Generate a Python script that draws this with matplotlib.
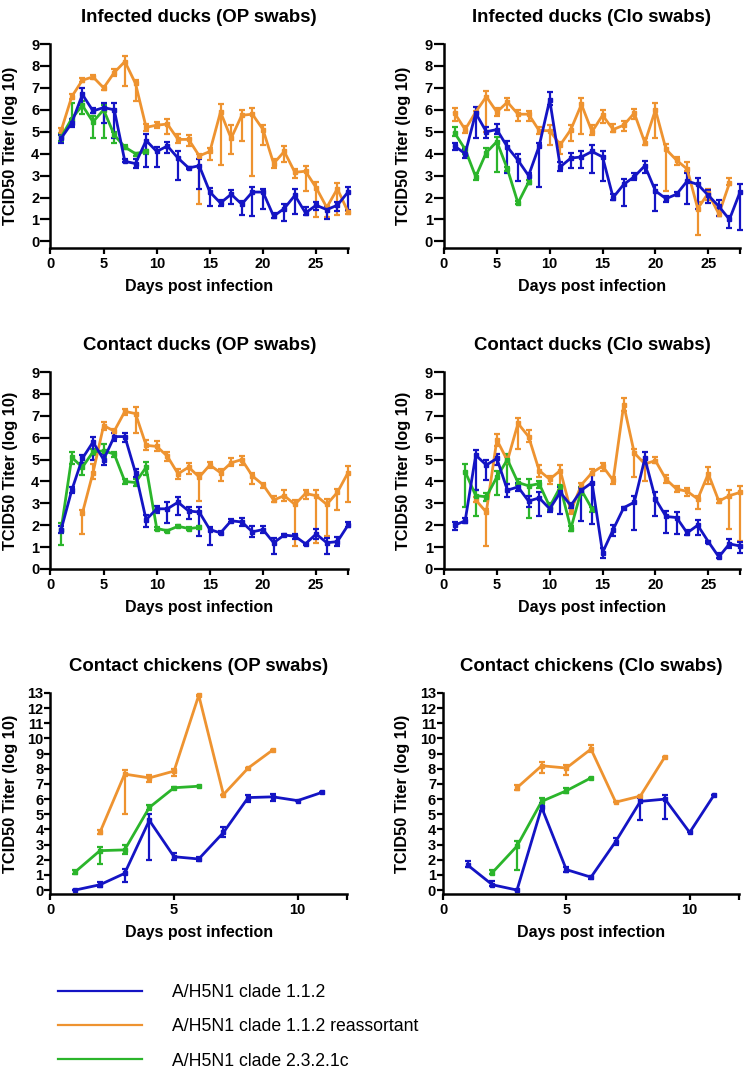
import matplotlib
matplotlib.use("Agg")
import matplotlib.pyplot as plt
from matplotlib.lines import Line2D

plt.rcParams['font.family'] = ['Liberation Sans', 'DejaVu Sans']

blue = '#1414c4'
orange = '#ee9330'
green = '#2bb52b'
strains = ['A/H5N1 clade 1.1.2', 'A/H5N1 clade 1.1.2 reassortant', 'A/H5N1 clade 2.3.2.1c']

days = [1, 2, 3, 4, 5, 6, 7, 8, 9, 10, 11, 12, 13, 14, 15, 16, 17, 18, 19, 20,
        21, 22, 23, 24, 25, 26, 27, 28]

# Infected ducks, OP swabs
iop_blue = [4.7, 5.4, 6.7, 5.95, 6.1, 6.0, 3.65, 3.55, 4.6, 4.1, 4.35, 3.8, 3.35, 3.45,
            2.25, 1.75, 2.15, 1.7, 2.25, 2.25, 1.15, 1.5, 2.1, 1.3, 1.65, 1.45, 1.65, 2.25]
iop_blue_lo = [4.5, 5.2, 6.2, 5.85, 5.4, 4.7, 3.6, 3.35, 3.4, 3.4, 4.05, 2.8, 3.3, 2.4,
               1.6, 1.6, 1.7, 1.2, 1.15, 1.5, 1.05, 0.95, 1.25, 1.2, 1.45, 1.0, 1.4, 1.45]
iop_blue_hi = [4.85, 5.6, 7.0, 6.1, 6.3, 6.3, 3.75, 3.75, 4.9, 4.3, 4.55, 4.1, 3.4, 3.75,
               2.45, 1.9, 2.35, 1.85, 2.5, 2.4, 1.3, 1.7, 2.4, 1.55, 1.8, 1.6, 1.8, 2.5]
iop_orange = [5.05, 6.6, 7.35, 7.5, 7.0, 7.7, 8.2, 7.2, 5.2, 5.3, 5.35, 4.65, 4.65, 3.9,
              4.1, 5.9, 4.7, 5.75, 5.8, 5.1, 3.55, 4.1, 3.15, 3.2, 2.45, 1.55, 2.4, 1.35]
iop_orange_lo = [4.95, 6.5, 7.25, 7.4, 6.9, 7.55, 7.1, 6.4, 5.05, 5.15, 4.9, 4.5, 4.35, 1.7,
                 3.7, 3.5, 4.0, 4.6, 3.0, 4.4, 3.35, 3.6, 2.9, 2.3, 1.1, 1.1, 1.2, 1.25]
iop_orange_hi = [5.15, 6.7, 7.45, 7.6, 7.1, 7.85, 8.45, 7.35, 5.35, 5.45, 5.6, 4.9, 4.85, 4.0,
                 4.25, 6.25, 5.3, 6.0, 6.1, 5.3, 3.75, 4.35, 3.3, 3.45, 2.7, 1.6, 2.65, 1.4]
iop_green = [4.75, 5.6, 6.2, 5.45, 6.0, 4.85, 4.3, 4.0, 4.1]
iop_green_lo = [4.6, 5.5, 5.8, 4.7, 4.7, 4.5, 4.2, 3.9, 4.0]
iop_green_hi = [4.9, 6.3, 6.4, 5.7, 6.2, 5.0, 4.4, 4.05, 4.15]

# Infected ducks, Clo swabs
icl_blue = [4.35, 4.0, 5.85, 5.0, 5.1, 4.3, 3.7, 3.0, 4.35, 6.45, 3.4, 3.8, 3.85, 4.1,
            3.85, 2.0, 2.6, 2.95, 3.45, 2.3, 1.95, 2.15, 2.75, 2.6, 2.1, 1.6, 1.0, 2.25]
icl_blue_lo = [4.15, 3.8, 4.7, 4.7, 4.9, 3.1, 2.75, 2.6, 2.5, 6.2, 3.2, 3.35, 3.35, 3.1,
               2.75, 1.9, 1.6, 2.8, 3.1, 1.4, 1.8, 2.1, 1.7, 1.5, 1.75, 1.15, 0.6, 0.5]
icl_blue_hi = [4.5, 4.2, 6.15, 5.2, 5.35, 4.6, 4.0, 3.1, 4.5, 6.8, 3.6, 4.05, 4.1, 4.4,
               4.1, 2.15, 2.85, 3.1, 3.65, 2.55, 2.05, 2.25, 3.1, 2.9, 2.35, 1.9, 1.15, 2.6]
icl_orange = [5.85, 5.1, 5.9, 6.6, 5.9, 6.35, 5.8, 5.8, 5.05, 5.05, 4.4, 5.1, 6.25, 5.0,
              5.75, 5.1, 5.3, 5.85, 4.5, 6.0, 4.2, 3.7, 3.3, 1.5, 2.2, 1.25, 2.65]
icl_orange_lo = [5.5, 4.95, 5.7, 5.0, 5.7, 6.0, 5.5, 5.5, 4.9, 4.4, 4.0, 4.6, 4.9, 4.85,
                 5.4, 5.0, 5.05, 5.6, 4.4, 4.7, 2.3, 3.5, 3.2, 0.3, 1.9, 1.15, 2.55]
icl_orange_hi = [6.1, 5.25, 5.95, 6.85, 6.1, 6.55, 6.0, 5.95, 5.2, 5.3, 4.55, 5.3, 6.55, 5.3,
                 6.0, 5.35, 5.5, 6.05, 4.7, 6.3, 4.45, 3.85, 3.6, 1.8, 2.4, 1.5, 2.9]
icl_green = [4.95, 4.2, 2.95, 4.05, 4.55, 3.3, 1.75, 2.7]
icl_green_lo = [4.8, 4.0, 2.8, 3.85, 3.15, 3.2, 1.7, 2.6]
icl_green_hi = [5.2, 4.3, 3.1, 4.25, 4.75, 3.4, 1.85, 2.8]

# Contact ducks, OP swabs
cop_blue = [1.8, 3.6, 5.05, 5.8, 5.0, 6.05, 6.05, 4.4, 2.25, 2.75, 2.75, 3.05, 2.65, 2.6,
            1.8, 1.65, 2.2, 2.15, 1.7, 1.8, 1.2, 1.55, 1.5, 1.15, 1.6, 1.2, 1.25, 2.0]
cop_blue_lo = [1.65, 3.45, 4.85, 5.0, 4.75, 5.85, 5.8, 4.2, 1.9, 2.55, 2.1, 2.45, 2.3, 1.5,
               1.1, 1.6, 2.15, 1.95, 1.45, 1.65, 0.7, 1.5, 1.35, 1.1, 1.35, 0.7, 1.05, 1.9]
cop_blue_hi = [1.95, 3.75, 5.2, 6.05, 5.25, 6.2, 6.2, 4.55, 2.45, 2.9, 3.05, 3.3, 2.85, 2.85,
               1.9, 1.75, 2.3, 2.35, 1.95, 1.95, 1.4, 1.6, 1.6, 1.2, 1.85, 1.4, 1.45, 2.15]
cop_orange = [2.55, 4.4, 6.55, 6.3, 7.2, 7.1, 5.65, 5.6, 5.15, 4.35, 4.65, 4.2, 4.75, 4.4,
              4.85, 5.0, 4.25, 3.85, 3.15, 3.35, 2.95, 3.45, 3.35, 2.95, 3.5, 4.4]
cop_orange_lo = [1.6, 4.1, 6.35, 6.2, 7.05, 6.2, 5.45, 5.4, 4.95, 4.1, 4.35, 3.1, 4.6, 4.0,
                 4.7, 4.75, 3.9, 3.7, 3.05, 3.1, 1.05, 3.2, 1.2, 1.5, 2.7, 3.05]
cop_orange_hi = [2.7, 4.8, 6.7, 6.4, 7.3, 7.4, 5.9, 5.85, 5.35, 4.55, 4.85, 4.4, 4.9, 4.55,
                 5.05, 5.15, 4.4, 3.95, 3.35, 3.6, 3.15, 3.6, 3.6, 3.2, 3.65, 4.7]
cop_green = [1.8, 5.1, 4.65, 5.35, 5.4, 5.25, 4.0, 3.95, 4.65, 1.85, 1.75, 1.95, 1.85, 1.9]
cop_green_lo = [1.1, 4.8, 4.3, 5.2, 5.1, 5.1, 3.9, 3.8, 4.3, 1.8, 1.7, 1.9, 1.8, 1.85]
cop_green_hi = [2.1, 5.35, 4.85, 5.5, 5.7, 5.35, 4.1, 4.1, 4.9, 1.9, 1.8, 2.0, 1.9, 1.95]

# Contact ducks, Clo swabs
ccl_blue = [2.0, 2.2, 5.2, 4.75, 5.05, 3.6, 3.75, 3.1, 3.25, 2.75, 3.5, 2.9, 3.6, 3.95,
            0.75, 1.8, 2.8, 3.05, 5.05, 3.2, 2.4, 2.35, 1.65, 2.0, 1.25, 0.55, 1.15, 1.05]
ccl_blue_lo = [1.8, 2.1, 3.6, 4.05, 4.75, 3.3, 3.55, 2.85, 2.4, 2.6, 2.5, 2.8, 2.2, 2.05,
               0.5, 1.5, 2.75, 1.8, 4.75, 2.4, 1.65, 1.6, 1.55, 1.55, 1.2, 0.5, 0.95, 0.75]
ccl_blue_hi = [2.15, 2.35, 5.45, 5.0, 5.25, 3.9, 3.95, 3.35, 3.5, 2.95, 3.75, 3.0, 3.7, 4.3,
               0.95, 2.0, 2.85, 3.35, 5.35, 3.5, 2.65, 2.6, 1.8, 2.25, 1.3, 0.75, 1.35, 1.25]
ccl_orange = [3.15, 2.6, 5.9, 4.95, 6.65, 6.05, 4.5, 4.1, 4.5, 2.65, 3.85, 4.4, 4.7, 4.05,
              7.5, 5.3, 4.8, 4.95, 4.1, 3.65, 3.55, 3.2, 4.35, 3.1, 3.35, 3.5]
ccl_orange_lo = [3.05, 1.05, 5.6, 4.8, 5.5, 5.8, 4.2, 3.9, 3.6, 2.5, 3.65, 4.3, 4.5, 3.9,
                 7.2, 4.2, 4.0, 4.85, 3.95, 3.5, 3.35, 2.75, 3.9, 3.0, 1.85, 1.3]
ccl_orange_hi = [3.3, 2.75, 6.15, 5.1, 6.9, 6.35, 4.75, 4.25, 4.75, 2.9, 3.95, 4.55, 4.85, 4.2,
                 7.8, 5.5, 5.0, 5.1, 4.3, 3.8, 3.7, 3.35, 4.65, 3.2, 3.6, 3.8]
ccl_green = [4.45, 3.35, 3.3, 4.2, 5.0, 3.95, 3.8, 3.9, 2.85, 3.75, 1.85, 3.6, 2.75]
ccl_green_lo = [2.85, 2.4, 3.1, 3.4, 3.9, 3.85, 2.35, 3.7, 2.7, 3.4, 1.75, 3.4, 2.6]
ccl_green_hi = [4.8, 3.6, 3.45, 4.5, 5.25, 4.1, 4.1, 4.0, 3.0, 3.85, 1.95, 3.75, 2.85]

# Contact chickens, OP swabs
chop_blue = [0.0, 0.35, 1.1, 4.6, 2.2, 2.05, 3.8, 6.1, 6.15, 5.9, 6.45]
chop_blue_lo = [0.0, 0.2, 0.5, 2.0, 2.0, 1.9, 3.5, 5.8, 5.85, 5.9, 6.45]
chop_blue_hi = [0.0, 0.55, 1.4, 5.0, 2.45, 2.2, 4.15, 6.3, 6.35, 5.9, 6.45]
chop_orange = [3.8, 7.65, 7.4, 7.85, 12.85, 6.3, 8.05, 9.25]
chop_orange_lo = [3.7, 5.0, 7.1, 7.55, 12.8, 6.3, 8.05, 9.25]
chop_orange_hi = [3.95, 7.95, 7.6, 8.0, 12.9, 6.3, 8.05, 9.25]
chop_green = [1.2, 2.6, 2.65, 5.45, 6.75, 6.85]
chop_green_lo = [1.05, 1.7, 2.4, 5.3, 6.7, 6.85]
chop_green_hi = [1.35, 2.85, 2.95, 5.6, 6.8, 6.85]

# Contact chickens, Clo swabs
chcl_blue = [1.65, 0.35, 0.0, 5.45, 1.35, 0.85, 3.2, 5.85, 6.0, 3.8, 6.3]
chcl_blue_lo = [1.55, 0.25, 0.0, 5.2, 1.2, 0.75, 2.95, 4.6, 4.7, 3.8, 6.3]
chcl_blue_hi = [1.9, 0.6, 0.0, 5.75, 1.5, 0.95, 3.45, 6.1, 6.3, 3.8, 6.3]
chcl_orange = [6.75, 8.2, 8.05, 9.3, 5.8, 6.2, 8.8]
chcl_orange_lo = [6.6, 7.7, 7.6, 9.1, 5.8, 6.2, 8.8]
chcl_orange_hi = [6.95, 8.45, 8.25, 9.6, 5.8, 6.2, 8.8]
chcl_green = [1.15, 2.9, 5.85, 6.55, 7.4]
chcl_green_lo = [1.05, 1.3, 5.6, 6.4, 7.4]
chcl_green_hi = [1.35, 3.25, 6.1, 6.7, 7.4]

W, H = 750, 1069
fig = plt.figure(figsize=(W / 100, H / 100), dpi=100)


def series(ax, start, mean, lo, hi, color):
    x = days[start - 1:start - 1 + len(mean)]
    err = [[m - l for m, l in zip(mean, lo)], [h - m for m, h in zip(mean, hi)]]
    ax.errorbar(x, mean, yerr=err, color=color, lw=2.0, elinewidth=1.6,
                capsize=2, capthick=1.6, marker='s', markersize=2.5,
                clip_on=False)


def panel(rect, title, ymin, ymax, xmax, xticks, yticks, ytick_len, data):
    l, t, r, b = rect
    ax = fig.add_axes([l / W, 1 - b / H, (r - l) / W, (b - t) / H])
    for start, mean, lo, hi, color in data:
        series(ax, start, mean, lo, hi, color)
    ax.set_xlim(0, xmax)
    ax.set_ylim(ymin, ymax)
    ax.set_xticks(xticks)
    ax.set_xticks([xmax], minor=True)
    ax.set_yticks(yticks)
    for s in ['top', 'right']:
        ax.spines[s].set_visible(False)
    for s in ['left', 'bottom']:
        ax.spines[s].set_linewidth(1.8)
    ax.tick_params(axis='x', which='both', direction='out', length=4.5, width=1.6,
                   labelsize=10.5, pad=2)
    ax.tick_params(axis='y', direction='out', length=ytick_len, width=1.6,
                   labelsize=10.5, pad=1)
    for lab in ax.get_xticklabels() + ax.get_yticklabels():
        lab.set_fontweight('bold')
    ax.set_title(title, fontsize=13.4, fontweight='bold', pad=16)
    ax.set_xlabel('Days post infection', fontsize=11.5, fontweight='bold', labelpad=6)
    ax.set_ylabel('TCID50 Titer (log 10)', fontsize=11.8, fontweight='bold')
    ax.yaxis.set_label_coords(-0.11, 0.5)
    return ax


ducks_x = [0, 5, 10, 15, 20, 25]
ducks_y = [0, 1, 2, 3, 4, 5, 6, 7, 8, 9]
chick_x = [0, 5, 10]
chick_y = [0, 1, 2, 3, 4, 5, 6, 7, 8, 9, 10, 11, 12, 13]

panel((50.5, 44, 348, 248), 'Infected ducks (OP swabs)', -0.3, 9, 28, ducks_x, ducks_y, 7,
      [(1, iop_orange, iop_orange_lo, iop_orange_hi, orange),
       (1, iop_green, iop_green_lo, iop_green_hi, green),
       (1, iop_blue, iop_blue_lo, iop_blue_hi, blue)])
panel((444, 44, 740, 248), 'Infected ducks (Clo swabs)', -0.3, 9, 28, ducks_x, ducks_y, 7,
      [(1, icl_orange, icl_orange_lo, icl_orange_hi, orange),
       (1, icl_green, icl_green_lo, icl_green_hi, green),
       (1, icl_blue, icl_blue_lo, icl_blue_hi, blue)])
panel((50.5, 372, 348, 569), 'Contact ducks (OP swabs)', 0, 9, 28, ducks_x, ducks_y, 7,
      [(3, cop_orange, cop_orange_lo, cop_orange_hi, orange),
       (1, cop_green, cop_green_lo, cop_green_hi, green),
       (1, cop_blue, cop_blue_lo, cop_blue_hi, blue)])
panel((444, 372, 740, 569), 'Contact ducks (Clo swabs)', 0, 9, 28, ducks_x, ducks_y, 7,
      [(3, ccl_orange, ccl_orange_lo, ccl_orange_hi, orange),
       (2, ccl_green, ccl_green_lo, ccl_green_hi, green),
       (1, ccl_blue, ccl_blue_lo, ccl_blue_hi, blue)])
panel((50.5, 693, 347, 894), 'Contact chickens (OP swabs)', -0.26, 13, 12, chick_x, chick_y, 4,
      [(2, chop_orange, chop_orange_lo, chop_orange_hi, orange),
       (1, chop_green, chop_green_lo, chop_green_hi, green),
       (1, chop_blue, chop_blue_lo, chop_blue_hi, blue)])
panel((443, 693, 739, 894), 'Contact chickens (Clo swabs)', -0.26, 13, 12, chick_x, chick_y, 4,
      [(3, chcl_orange, chcl_orange_lo, chcl_orange_hi, orange),
       (2, chcl_green, chcl_green_lo, chcl_green_hi, green),
       (1, chcl_blue, chcl_blue_lo, chcl_blue_hi, blue)])

handles = [Line2D([], [], color=c, lw=1.6) for c in [blue, orange, green]]
fig.legend(handles, strains, loc='upper left', bbox_to_anchor=(58 / W, 1 - 984 / H),
           frameon=False, fontsize=12.7, handlelength=4.75, handletextpad=1.7,
           labelspacing=0.98, borderpad=0, borderaxespad=0)

fig.savefig('out.png', dpi=100)
